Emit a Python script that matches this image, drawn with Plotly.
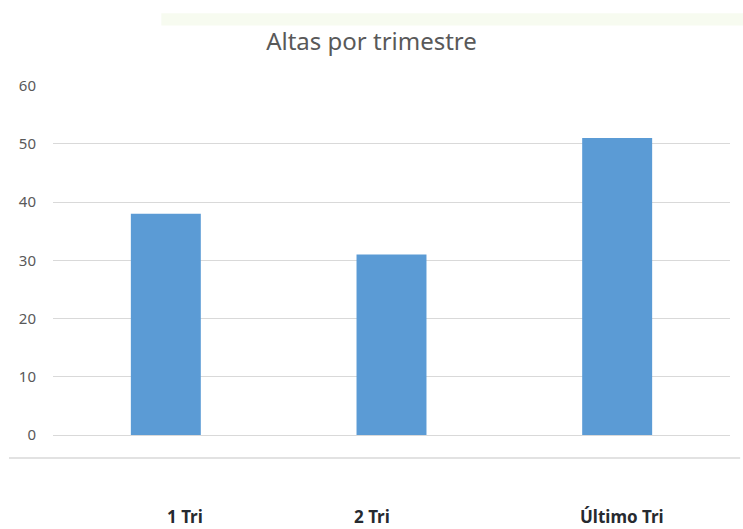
import plotly.graph_objects as go

categories = ["1 Tri", "2 Tri", "Último Tri"]
values = [38, 31, 51]
y_ticks = [0, 10, 20, 30, 40, 50, 60]
title_text = "Altas por trimestre"

fig = go.Figure()
fig.add_trace(go.Bar(
    x=categories, y=values,
    marker=dict(color="#5b9bd5", line=dict(width=0)),
    hoverinfo="x+y",
))

# category labels placed far below the axis, as in the reference
label_shifts = [19, -20, 5]
for cat, dx in zip(categories, label_shifts):
    fig.add_annotation(
        x=cat, xref="x", y=0, yref="paper", yshift=-81, xshift=dx,
        text=cat, showarrow=False,
        font=dict(family="Noto Sans", size=17, color="#262a30", weight="bold"),
        yanchor="middle",
    )

# separator line beneath the plot
fig.add_shape(type="line", xref="paper", yref="paper",
              x0=-0.065, x1=1.015, y0=-0.066, y1=-0.066,
              line=dict(color="#d9d9d9", width=1.5))

# faint band at the very top of the screenshot
fig.add_shape(type="rect", xref="paper", yref="paper",
              x0=0.16, x1=1.02, y0=1.17, y1=1.205,
              fillcolor="#f7fbf0", line=dict(width=0), layer="below")

fig.update_layout(
    width=743, height=529,
    margin=dict(l=53, r=13, t=85, b=94),
    paper_bgcolor="white", plot_bgcolor="white",
    title=dict(text=title_text, x=0.5, xanchor="center", y=0.921, yanchor="middle",
               font=dict(family="Noto Sans", size=24, color="#595959")),
    bargap=0.69,
    showlegend=False,
    xaxis=dict(range=[-0.5, 2.5], showticklabels=False, showgrid=False,
               zeroline=False, showline=False, ticks=""),
    yaxis=dict(range=[0, 60.1], tickvals=y_ticks, ticktext=[str(v) for v in y_ticks],
               showgrid=True, gridcolor="#d9d9d9", gridwidth=1,
               zeroline=True, zerolinecolor="#d9d9d9", zerolinewidth=1,
               showline=False, ticks="", ticklabelstandoff=16,
               tickfont=dict(family="Noto Sans", size=15, color="#595959")),
)

fig.write_html("out.html", config={"displayModeBar": False},
               post_script="document.body.style.margin='0';document.body.style.overflow='hidden';")
